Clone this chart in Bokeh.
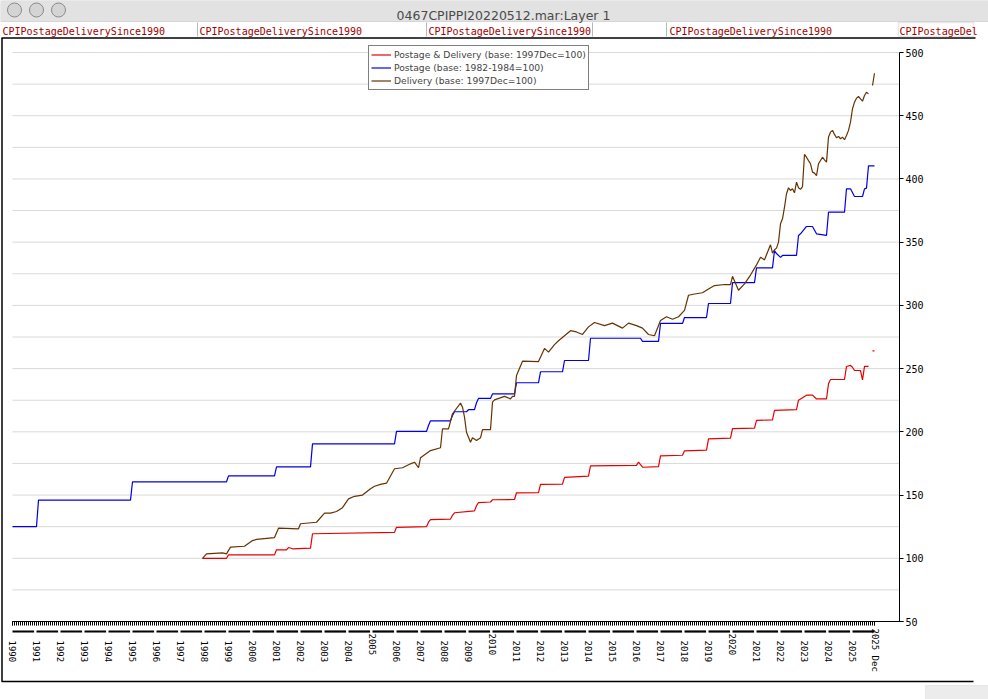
import math
from bokeh.plotting import figure
from bokeh.models import (LinearAxis, FixedTicker, Range1d, Legend, LegendItem,
                          Label, BoxAnnotation)
from bokeh.embed import file_html
from bokeh.resources import INLINE

NAN = float("nan")

# ---------------- data ----------------
postage_dates = ["1990-01","1991-01","1991-02","1994-12","1995-01","1998-12","1999-01","2000-12",
    "2001-01","2002-06","2002-07","2005-12","2006-01","2007-04","2007-05","2007-06","2008-04",
    "2008-05","2008-06","2008-12","2009-01","2009-04","2009-05","2009-06","2009-12","2010-01",
    "2010-12","2011-01","2011-12","2012-01","2012-12","2013-01","2014-01","2014-02","2016-03",
    "2016-04","2016-12","2017-01","2017-12","2018-01","2018-12","2019-01","2019-12","2020-01",
    "2020-12","2021-01","2021-09","2021-10","2021-11","2022-01","2022-02","2022-09","2022-10",
    "2022-11","2023-02","2023-05","2023-07","2023-12","2024-01","2024-09","2024-10","2024-12",
    "2025-02","2025-06","2025-07","2025-08","2025-09","2025-12"]
postage_vals = [125,125,146,146,160.5,160.5,165.2,165.2,
    172.3,172.3,190.5,190.5,200.3,200.3,205,208.7,208.7,
    213,215.9,215.9,217.5,217.5,223,226.4,226.4,230,
    230,238.8,238.8,247.5,247.5,256.4,256.4,274,274,
    271.5,271.5,285.7,285.7,290.4,290.4,301.5,301.5,318,
    318,329.7,329.7,343.4,341,338,339.5,339.5,355.3,
    356.6,362.4,362.4,356.6,355.3,373.7,373.7,392.2,392.2,
    386.1,386.1,392.2,392.7,410.4,410.4]

pd_dates = ["1997-12","1998-12","1999-01","2000-12","2001-01","2001-06","2001-07","2001-09",
    "2002-06","2002-07","2005-12","2006-01","2007-04","2007-05","2007-06","2008-04","2008-05",
    "2008-06","2009-04","2009-05","2009-06","2009-12","2010-01","2010-12","2011-01","2011-12",
    "2012-01","2012-12","2013-01","2014-01","2014-02","2016-01","2016-02","2016-04","2016-12",
    "2017-01","2017-12","2018-01","2018-12","2019-01","2019-12","2020-01","2020-12","2021-01",
    "2021-09","2021-10","2022-09","2022-10","2022-11","2023-02","2023-05","2023-07","2023-12",
    "2024-01","2024-02","2024-09","2024-10","2024-12","2025-01","2025-02","2025-05","2025-06",
    "2025-07","2025-09","2025-10","2025-11","2025-12"]
pd_vals = [100,100,102.7,102.7,106.7,106.7,108.5,107.5,
    108,119.4,120.5,124.5,125,128.5,130.5,131,134,
    136,137.5,141.5,144,144.5,146.3,146.5,151.8,152,
    158.4,158.6,164,165,173,173.5,176,172,172.5,
    181,181.5,185,185.5,194.5,195,202.5,203,209,
    209.5,216.9,217.5,225,226,229,229,226,226,
    238,241.4,241.4,251.7,252.5,251.1,248.5,248.5,241.1,
    251.7,251.7,NAN,264.1,264.1]

delivery_dates = ["1997-12","1998-02","1998-10","1998-12","1999-02","1999-09","2000-01","2000-03",
    "2000-12","2001-02","2001-12","2002-01","2002-09","2003-01","2003-04","2003-07","2003-10",
    "2004-01","2004-04","2004-08","2004-12","2005-02","2005-05","2005-08","2005-12","2006-04",
    "2006-08","2006-10","2006-12","2007-01","2007-06","2007-11","2007-12","2008-03","2008-05",
    "2008-09","2008-10","2008-11","2008-12","2009-02","2009-03","2009-05","2009-07","2009-08",
    "2009-12","2010-01","2010-02","2010-07","2010-10","2010-11","2010-12","2011-01","2011-04",
    "2011-12","2012-03","2012-05","2012-08","2012-10","2013-01","2013-04","2013-07","2013-10",
    "2014-01","2014-04","2014-09","2015-01","2015-06","2015-09","2016-01","2016-04","2016-07",
    "2016-10","2017-01","2017-04","2017-07","2017-10","2018-01","2018-03","2018-06","2018-10",
    "2019-01","2019-04","2019-09","2019-12","2020-01","2020-04","2020-07","2020-10","2021-01",
    "2021-03","2021-04","2021-05","2021-06","2021-07","2021-08","2021-09","2021-10","2021-11",
    "2021-12","2022-01","2022-02","2022-03","2022-04","2022-05","2022-06","2022-07","2022-08",
    "2022-09","2022-10","2022-11","2022-12","2023-01","2023-02","2023-03","2023-04","2023-05",
    "2023-06","2023-07","2023-08","2023-09","2023-10","2023-11","2023-12","2024-01","2024-02",
    "2024-03","2024-04","2024-05","2024-06","2024-07","2024-08","2024-09","2024-10","2024-11",
    "2024-12","2025-01","2025-02","2025-03","2025-04","2025-05","2025-06","2025-07","2025-08",
    "2025-09","2025-10","2025-11","2025-12"]
delivery_vals = [100,103.5,104.3,103.5,108.8,109.5,114,114.9,
    116.4,123.8,123.3,127.3,128.5,135.7,135.7,137,140,
    147,149,150,155,157,158.4,159.4,170.8,171.6,
    174.7,176,171.6,179.5,185.2,187.4,202.4,202.4,214.3,
    222.7,219.5,211.6,199.7,191.8,195.3,193.2,195.3,201.8,
    201.8,223.5,225.3,228,226.1,228,228,244.5,255.9,
    255.6,266,263,269,272,276,280,279,277,
    283,286.5,284,286,282,286,284,282,277,
    276,288,291,289,291,296,308,309,310,
    313,315.7,316.5,316.5,323,312,317,324,332,
    338.1,337,336,340,344,347.9,341.3,344,345.3,
    350,364.5,368.5,377.7,388.3,393,390.9,392.2,389,
    397.5,393,391.8,394,419.5,417.2,414.5,412,405.4,
    404.6,402.7,412,414.6,417.2,415.1,413.3,433.1,437,
    438.4,435.2,432.6,433.6,431.8,433.1,431,434.4,438.4,
    444.9,455.5,460.7,463.9,465.2,463.4,461.5,466,468.6,
    467.3,NAN,473.9,483.6]

series_names = ["Postage & Delivery (base: 1997Dec=100)",
                "Postage (base: 1982-1984=100)",
                "Delivery (base: 1997Dec=100)"]
series_colors = ["#e80000", "#0000e8", "#663300"]

y_ticks = [50, 100, 150, 200, 250, 300, 350, 400, 450, 500]
grid_values = [75, 100, 125, 150, 175, 200, 225, 250, 275, 300, 325, 350, 375, 400,
               425, 450, 475, 500]
years = list(range(1990, 2026))
raised_years = [2005, 2010, 2020]
last_month = "2025-12"
last_label = "2025 Dec"
tab_label = "CPIPostageDeliverySince1990"
window_title = "0467CPIPPI20220512.mar:Layer 1"


def ym(s):
    y, m = s.split("-")
    return int(y) + (int(m) - 1) / 12.0


# ---------------- geometry (page pixels -> data) ----------------
W, H = 988, 699
PX_YR = 24.0
PXV = 569.0 / 450.0


def t_at(xp):
    return 1990 + (xp - 12) / PX_YR


def v_at(yp):
    return 50 + (621 - yp) / PXV


p = figure(width=W, height=H, output_backend="svg", toolbar_location=None,
           x_range=Range1d(t_at(0), t_at(W)), y_range=Range1d(v_at(H), v_at(0)),
           x_axis_type=None, y_axis_type=None, min_border=0,
           min_border_left=0, min_border_right=0, min_border_top=0, min_border_bottom=0)
p.title.visible = False
p.outline_line_color = None
p.background_fill_color = "white"
p.border_fill_color = "white"

# ---- window chrome ----
p.add_layout(BoxAnnotation(left=t_at(0), right=t_at(W), bottom=v_at(21), top=v_at(0),
                           fill_color="#e2e2e2", fill_alpha=1, line_color="#9a9a9a",
                           line_width=1, level="underlay"))
p.scatter(x=[t_at(x) for x in (14, 36, 58)], y=[v_at(9.5)] * 3, size=14,
          fill_color="#d4d4d4", line_color="#8a8a8a", line_width=1)
p.add_layout(Label(x=t_at(503), y=v_at(15), text=window_title, text_align="center",
                   text_baseline="alphabetic", text_font="DejaVu Sans",
                   text_font_size="12.5px", text_color="#4a4a4a"))
for xs in (197, 426, 592, 666):
    p.segment(x0=[t_at(xs)], x1=[t_at(xs)], y0=[v_at(22)], y1=[v_at(36)],
              line_color="#b8b8b8", line_width=1)
p.add_layout(BoxAnnotation(left=t_at(898), right=t_at(973), bottom=v_at(36), top=v_at(22),
                           fill_alpha=0, line_color="#b0b0b0", line_width=1.5))
for xs, txt in ((2, tab_label), (199, tab_label), (428, tab_label), (669, tab_label),
                (899, tab_label[:13])):
    p.add_layout(Label(x=t_at(xs), y=v_at(31), text=txt, text_align="left",
                       text_baseline="alphabetic", text_font="DejaVu Sans Mono",
                       text_font_size="10px", text_color="#a00000"))
# content box border
p.segment(x0=[t_at(1), t_at(1), t_at(1.5)], x1=[t_at(975), t_at(973), t_at(1.5)],
          y0=[v_at(37.5), v_at(681), v_at(37.5)], y1=[v_at(37.5), v_at(681), v_at(681)],
          line_color="black", line_width=1.5)
p.add_layout(BoxAnnotation(left=t_at(925), right=t_at(W), bottom=v_at(H), top=v_at(685),
                           fill_color="#ececec", fill_alpha=1, line_color="#c8c8c8"))

# ---- grid lines ----
axis_t = t_at(899)
p.segment(x0=[1990] * len(grid_values), x1=[axis_t] * len(grid_values),
          y0=grid_values, y1=grid_values, line_color="#d9d9d9", line_width=1)

# ---- year dashes under the axis ----
dash_end = [y + 0.9 for y in years]
dash_end[-1] = ym(last_month)
p.segment(x0=years, x1=dash_end, y0=[v_at(631)] * len(years), y1=[v_at(631)] * len(years),
          line_color="black", line_width=2.2)

# ---- series ----
r_pd = p.line([ym(d) for d in pd_dates], pd_vals, line_color=series_colors[0], line_width=1.2)
r_po = p.line([ym(d) for d in postage_dates], postage_vals, line_color=series_colors[1],
              line_width=1.2)
r_de = p.line([ym(d) for d in delivery_dates], delivery_vals, line_color=series_colors[2],
              line_width=1.2)

# ---- axes ----
month_ticks = [y + m / 12.0 for y in range(1990, 2026) for m in range(12)]
normal_ticks = [float(y) for y in years if y not in raised_years]
label_style = dict(major_label_orientation=-math.pi / 2,
                   major_label_text_font="DejaVu Sans Mono",
                   major_label_text_font_size="9px", major_label_text_color="black")

xax = LinearAxis(fixed_location=50, bounds=(1990, axis_t + 0.17),
                 ticker=FixedTicker(ticks=normal_ticks + [float(y) for y in raised_years]
                                    + [ym(last_month)], minor_ticks=month_ticks),
                 major_label_overrides={t: "" for t in [float(y) for y in raised_years]
                                        + [ym(last_month)]},
                 major_tick_in=0, major_tick_out=4, minor_tick_in=0, minor_tick_out=4,
                 major_label_standoff=15, axis_line_color="black", axis_line_width=1,
                 major_tick_line_color="black", minor_tick_line_color="black",
                 **label_style)
p.add_layout(xax, "below")

xax2 = LinearAxis(fixed_location=50, bounds=(1990, axis_t),
                  ticker=FixedTicker(ticks=[float(y) for y in raised_years], minor_ticks=[]),
                  axis_line_color=None, major_tick_line_color=None, minor_tick_line_color=None,
                  major_tick_in=0, major_tick_out=4, major_label_standoff=8, **label_style)
p.add_layout(xax2, "below")

xax3 = LinearAxis(fixed_location=50, bounds=(1990, axis_t),
                  ticker=FixedTicker(ticks=[ym(last_month)], minor_ticks=[]),
                  major_label_overrides={ym(last_month): last_label},
                  axis_line_color=None, major_tick_line_color=None, minor_tick_line_color=None,
                  major_tick_in=0, major_tick_out=4, major_label_standoff=3, **label_style)
p.add_layout(xax3, "below")

yax = LinearAxis(fixed_location=axis_t, bounds=(50, 500),
                 ticker=FixedTicker(ticks=y_ticks, minor_ticks=[]),
                 major_tick_in=0, major_tick_out=4, minor_tick_in=0, minor_tick_out=0,
                 major_label_standoff=2,
                 major_label_text_font="DejaVu Sans Mono",
                 major_label_text_font_size="10px", major_label_text_color="black",
                 axis_line_color="black", axis_line_width=1,
                 major_tick_line_color="black")
p.add_layout(yax, "right")

legend = Legend(items=[LegendItem(label=series_names[0], renderers=[r_pd]),
                       LegendItem(label=series_names[1], renderers=[r_po]),
                       LegendItem(label=series_names[2], renderers=[r_de])],
                location=(368, H - 90), orientation="vertical",
                border_line_color="black", border_line_width=1,
                background_fill_color="white", background_fill_alpha=1,
                label_text_font="DejaVu Sans", label_text_font_size="9.2px",
                glyph_width=20, glyph_height=13, label_height=13, label_standoff=3,
                spacing=0, padding=2, margin=0)
p.add_layout(legend)

open("out.html", "w").write(file_html(p, INLINE))
